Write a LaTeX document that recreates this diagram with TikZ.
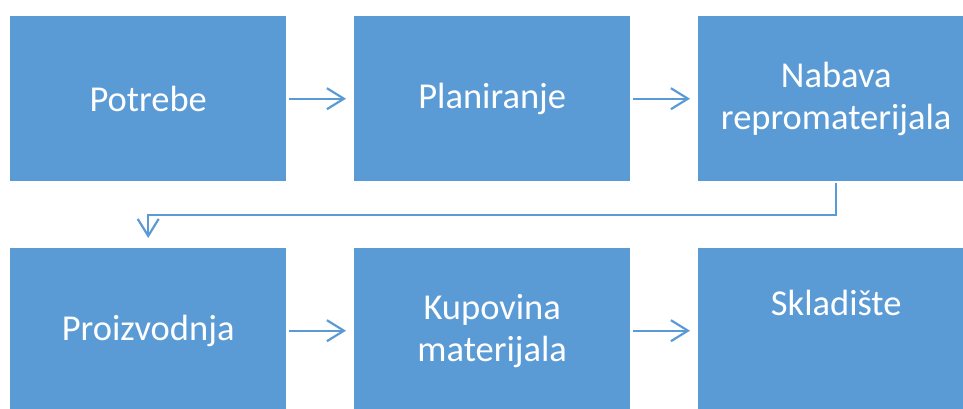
\documentclass[tikz,border=0pt]{standalone}
\usepackage{fontspec}
\setmainfont{Carlito}
\usetikzlibrary{calc, arrows.meta}
\definecolor{boxblue}{HTML}{5B9BD5}
\tikzset{
  stage/.style={fill=boxblue, draw=none, anchor=north west, inner sep=0pt,
    minimum width=276pt, minimum height=165pt, text=white, align=center,
    font=\fontsize{36.5}{42}\selectfont},
  flow/.style={draw=boxblue, line width=2.2pt,
    -{Straight Barb[length=17pt,width=21pt,line width=2.2pt]}}
}

\begin{document}
\begin{tikzpicture}[x=1pt,y=-1pt]
  \useasboundingbox (0,0) rectangle (963,408);
  % first row
  \node[stage] (potrebe) at (10,16) {Potrebe};
  \node[stage] (planiranje) at (354,16) {Planiranje};
  \node[stage] (nabava) at (698,16) {Nabava\\repromaterijala};
  % second row
  \node[stage] (proizvodnja) at (10,248) {Proizvodnja};
  \node[stage] (kupovina) at (354,248) {Kupovina\\materijala};
  \node[stage, text depth=56pt] (skladiste) at (698,248) {Skladište};
  % connectors
  \draw[flow, shorten <=3pt, shorten >=8pt] (potrebe) -- (planiranje);
  \draw[flow, shorten <=3pt, shorten >=8pt] (planiranje) -- (nabava);
  \draw[flow, shorten <=2pt, shorten >=10pt] (nabava.south)
    |- ($(nabava.south)!0.5!(proizvodnja.north)$) -| (proizvodnja.north);
  \draw[flow, shorten <=3pt, shorten >=8pt] (proizvodnja) -- (kupovina);
  \draw[flow, shorten <=3pt, shorten >=8pt] (kupovina) -- (skladiste);
\end{tikzpicture}
\end{document}
